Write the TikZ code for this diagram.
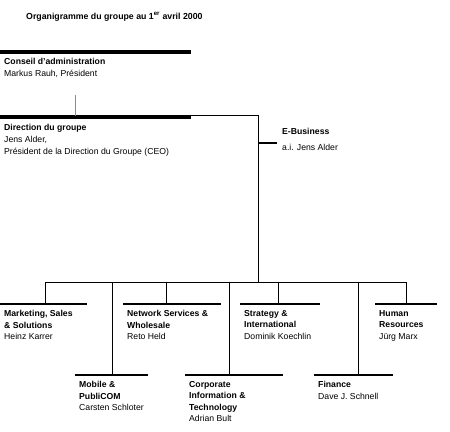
\documentclass[tikz,border=0pt]{standalone}
\usepackage{fontspec}
\setmainfont{Liberation Sans}
\begin{document}
\begin{tikzpicture}[x=1bp,y=-1bp,
  txt/.style={anchor=north west,inner sep=0pt,align=left,font=\fontsize{8.7}{11.6}\selectfont},
  toptxt/.style={txt,font=\fontsize{8.7}{12}\selectfont},
  bigbar/.style={line width=3.8bp,black},
  smallbar/.style={line width=1.8bp,black},
  conn/.style={line width=0.9bp,black},
  tick/.style={line width=2bp,black}]
\useasboundingbox (0,0) rectangle (450,431);
% title
\node[anchor=west,inner sep=0pt,font=\fontsize{8.8}{10}\selectfont\bfseries] (title) at (26,17) {Organigramme du groupe au 1\textsuperscript{er} avril 2000};
% Conseil
\coordinate (cbL) at (0,52);
\coordinate (cbR) at (191,52);
\draw[bigbar] (cbL) -- (cbR);
\node[toptxt] (conseil) at (4,58.5) {\textbf{Conseil d'administration}\\Markus Rauh, Président};
\coordinate (cdown) at (75,95);
% Direction
\coordinate (dbL) at (0,117.2);
\coordinate (dbR) at (191,117.2);
\coordinate (dtop) at (75,115.5);
\draw[bigbar] (dbL) -- (dbR);
\draw[line width=1bp,black!45] (cdown) -- (dtop);
\node[toptxt] (direction) at (4,124) {\textbf{Direction du groupe}\\Jens Alder,\\Président de la Direction du Groupe (CEO)};
% trunk
\coordinate (trStart) at (191,115.7);
\coordinate (trCorner) at (258,115.7);
\coordinate (trTick) at (258,143);
\coordinate (trEnd) at (258,282.3);
\draw[conn] (trStart) -- (trCorner) -- (trEnd);
% E-Business
\node[txt] (ebiz) at (282,128) {\textbf{E-Business}\\[4bp]a.i. Jens Alder};
\coordinate (ebTick) at (277,143);
\draw[tick] (trTick) -- (ebTick);
% bottom horizontal
\coordinate (hL) at (45,282.3);
\coordinate (hR) at (406,282.3);
\draw[conn] (hL) -- (hR);
% units
\foreach \nm/\xd/\yb/\xa/\xb/\txt in {
  mkt/45/304/0/87/{\textbf{Marketing, Sales}\\\textbf{\& Solutions}\\Heinz Karrer},
  mob/112/375/75/148/{\textbf{Mobile \&}\\\textbf{PubliCOM}\\Carsten Schloter},
  net/166/304/123/221/{\textbf{Network Services \&}\\\textbf{Wholesale}\\Reto Held},
  cit/229/375/185/283/{\textbf{Corporate}\\\textbf{Information \&}\\\textbf{Technology}\\Adrian Bult},
  str/278/304/240/320/{\textbf{Strategy \&}\\\textbf{International}\\Dominik Koechlin},
  fin/358/375/314/393/{\textbf{Finance}\\Dave J. Schnell},
  hr/406/304/375/437/{\textbf{Human}\\\textbf{Resources}\\Jürg Marx}}{
  \coordinate (\nm top) at (\xd,282.3);
  \coordinate (\nm bot) at (\xd,\yb);
  \coordinate (\nm L) at (\xa,\yb);
  \coordinate (\nm R) at (\xb,\yb);
  \draw[conn] (\nm top) -- (\nm bot);
  \draw[smallbar] (\nm L) -- (\nm R);
  \node[txt] (\nm) at ([xshift=4bp,yshift=-6bp]\nm L) {\txt};
}
\end{tikzpicture}
\end{document}
